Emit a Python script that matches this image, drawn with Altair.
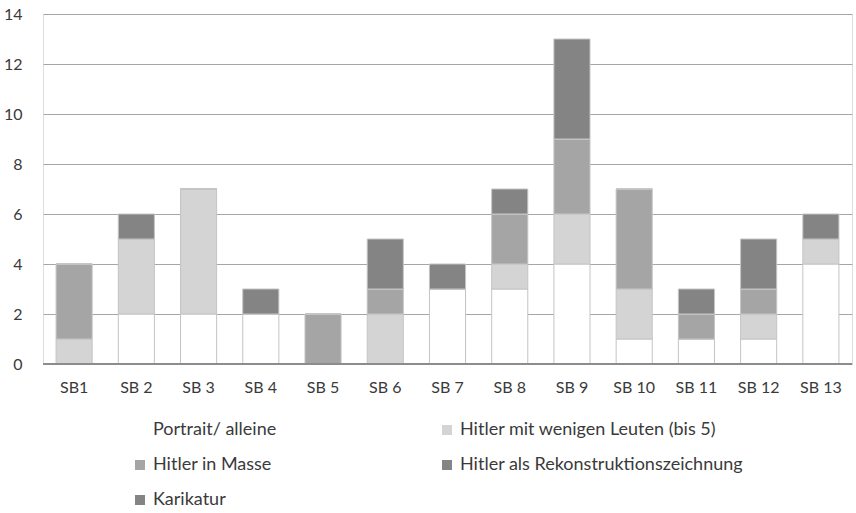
import altair as alt
import pandas as pd

# Categories (school books) and counts per depiction type
books = ["SB1", "SB 2", "SB 3", "SB 4", "SB 5", "SB 6", "SB 7",
         "SB 8", "SB 9", "SB 10", "SB 11", "SB 12", "SB 13"]

series = ["Portrait/ alleine",
          "Hitler mit wenigen Leuten (bis 5)",
          "Hitler in Masse",
          "Hitler als Rekonstruktionszeichnung",
          "Karikatur"]

portrait = [0, 2, 2, 2, 0, 0, 3, 3, 4, 1, 1, 1, 4]
wenige = [1, 3, 5, 0, 0, 2, 0, 1, 2, 2, 0, 1, 1]
masse = [3, 0, 0, 0, 2, 1, 0, 2, 3, 4, 1, 1, 0]
rekonstruktion = [0, 0, 0, 0, 0, 0, 0, 0, 0, 0, 0, 0, 0]
karikatur = [0, 1, 0, 1, 0, 2, 1, 1, 4, 0, 1, 2, 1]

colors = ["#ffffff", "#d4d4d4", "#a5a5a5", "#858585", "#848484"]

rows = []
for s_idx, (name, vals) in enumerate(zip(series, [portrait, wenige, masse, rekonstruktion, karikatur])):
    for book, v in zip(books, vals):
        rows.append({"Buch": book, "Kategorie": name, "Anzahl": v, "idx": s_idx})
df = pd.DataFrame(rows)

font = "Lato"
text_color = "#3a3a3a"

chart = alt.Chart(df).mark_bar(
    stroke="#c4c4c4", strokeWidth=1
).encode(
    x=alt.X("Buch:N", sort=books, title=None,
            scale=alt.Scale(paddingInner=0.42, paddingOuter=0.21),
            axis=alt.Axis(labelAngle=0, ticks=False, domain=False,
                          labelPadding=15, labelFontSize=16, labelFont=font,
                          labelColor=text_color, grid=False)),
    y=alt.Y("Anzahl:Q", stack="zero", title=None,
            scale=alt.Scale(domain=[0, 14]),
            axis=alt.Axis(values=[0, 2, 4, 6, 8, 10, 12, 14], ticks=False,
                          domain=False, labelPadding=21, labelFontSize=16,
                          labelFont=font, labelColor=text_color,
                          grid=True, gridColor="#a6a6a6", gridWidth=1)),
    color=alt.Color("Kategorie:N", sort=series,
                    scale=alt.Scale(domain=series, range=colors),
                    legend=alt.Legend(title=None, orient="none",
                                      legendX=88, legendY=407,
                                      direction="horizontal",
                                      columns=2, columnPadding=161,
                                      rowPadding=17, symbolType="square",
                                      symbolSize=100, symbolStrokeWidth=0,
                                      labelFont=font, labelFontSize=18,
                                      labelColor=text_color, labelLimit=400,
                                      labelOffset=4)),
    order=alt.Order("idx:Q", sort="ascending"),
)

baseline = alt.Chart(pd.DataFrame({"y": [0]})).mark_rule(
    color="#8c8c8c", strokeWidth=2
).encode(y="y:Q")

final = alt.layer(chart, baseline).properties(
    width=809, height=350,
    autosize=alt.AutoSizeParams(type="none"),
    padding={"left": 43, "top": 14, "right": 4, "bottom": 149},
).configure_view(stroke=None).configure(background="white")

final.save("out.html", embed_options={"renderer": "svg", "actions": False})
